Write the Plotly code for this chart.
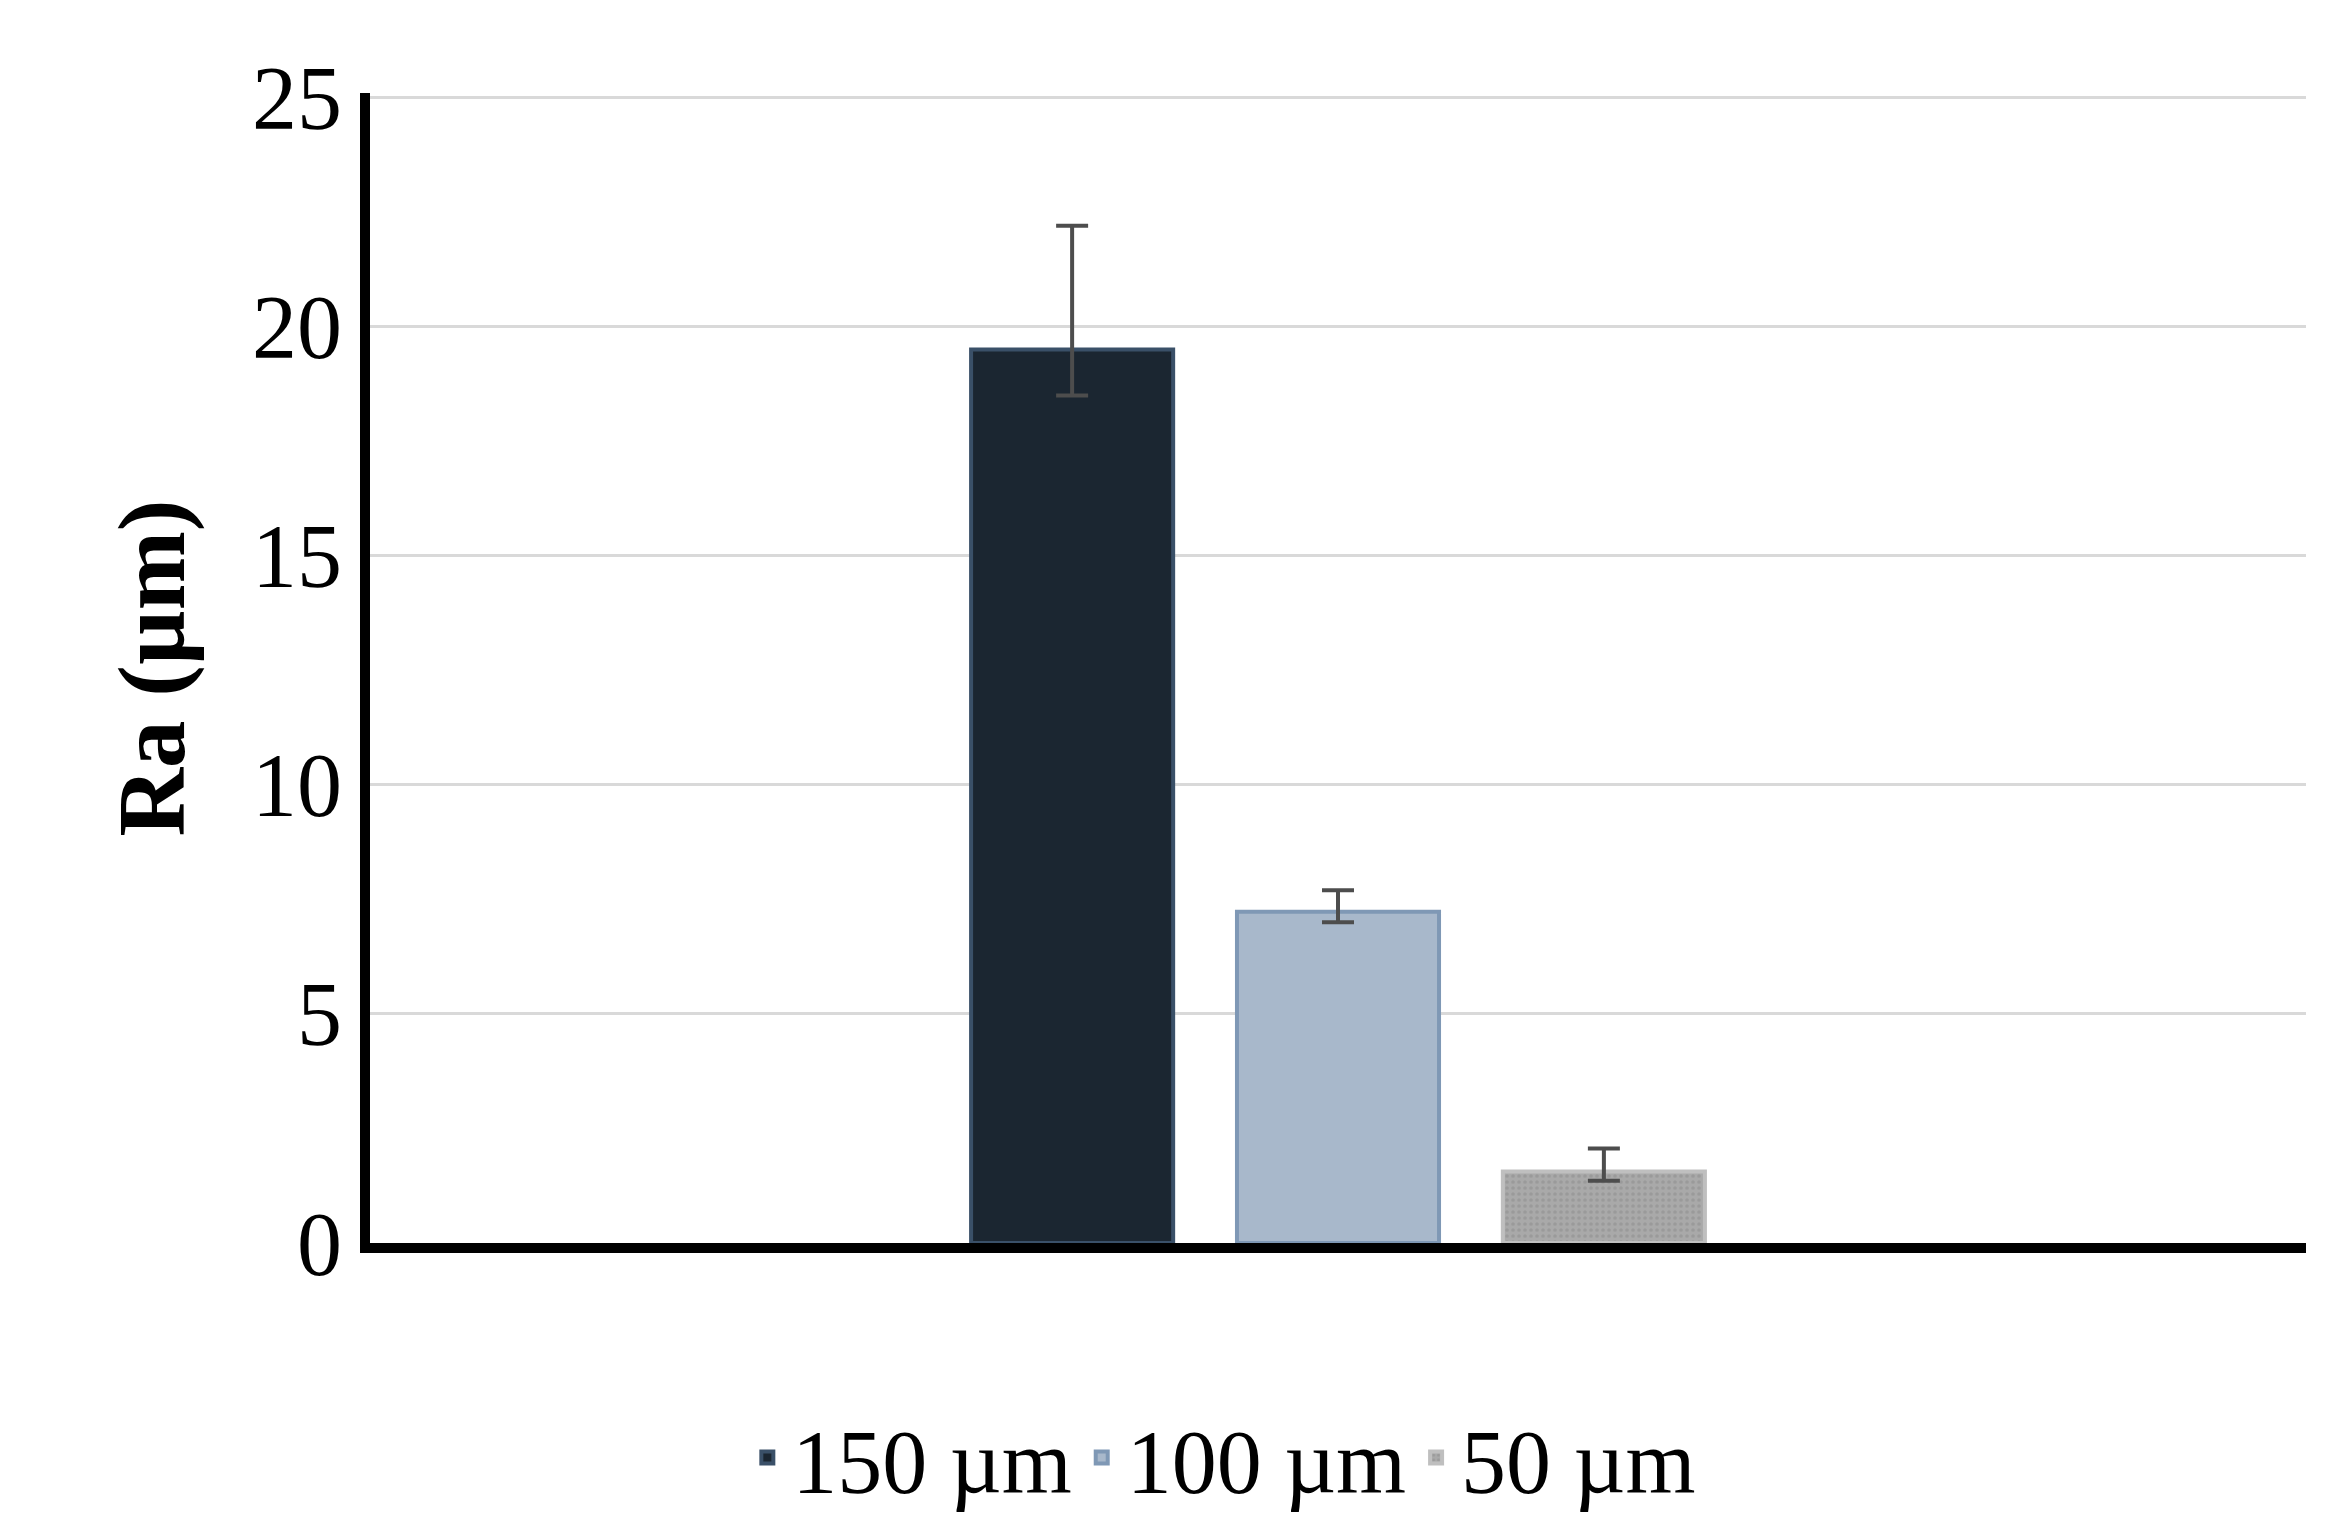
import plotly.graph_objects as go

category = ["Ra"]
series = ["150 µm", "100 µm", "50 µm"]
values = [19.5, 7.23, 1.56]
err_plus = [2.7, 0.47, 0.5]
err_minus = [1.0, 0.23, 0.2]
bar_colors = ["#1b2631", "#a8b8cb", "#a9a9a9"]
line_colors = ["#3a5068", "#7f98b5", "#bfbfbf"]

fig = go.Figure()
for i, s in enumerate(series):
    fig.add_trace(go.Bar(
        x=category, y=[values[i]], name=s,
        marker=dict(color=bar_colors[i], line=dict(color=line_colors[i], width=4),
                    pattern=dict(shape="." if i == 2 else "", fgcolor="#8c8c8c", size=6, solidity=0.3)),
        error_y=dict(type="data", symmetric=False, array=[err_plus[i]], arrayminus=[err_minus[i]],
                     color="#4d4d4d", thickness=4, width=16),
    ))

fig.update_layout(
    width=2330, height=1532, barmode="group", bargap=0.588, bargroupgap=0.24,
    paper_bgcolor="white", plot_bgcolor="white",
    margin=dict(l=362, r=32, t=85, b=297),
    font=dict(family="Liberation Serif", size=90, color="black"),
    legend=dict(orientation="h", x=0.44, xanchor="center", y=-0.13, yanchor="top",
                font=dict(size=90), itemwidth=40, traceorder="normal"),
    xaxis=dict(showticklabels=False, showline=True, linecolor="black", linewidth=10, showgrid=False),
    yaxis=dict(range=[0, 25.1], tickvals=[0, 5, 10, 15, 20, 25], showline=True, linecolor="black", linewidth=10,
               gridcolor="#d9d9d9", gridwidth=3, ticks="", ticklen=0,
               title=dict(text="<b>Ra (µm)</b>", font=dict(size=95), standoff=40),
               tickfont=dict(size=90)),
)
fig.write_html("out.html")
